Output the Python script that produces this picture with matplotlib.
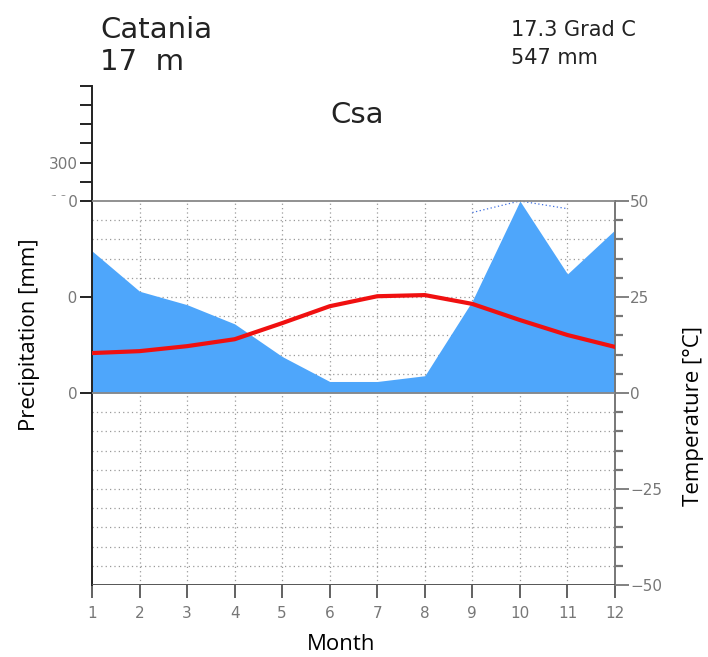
#Walter-Lieth climate diagram for Catania
import numpy as np
import matplotlib
matplotlib.use("Agg")
import matplotlib.pyplot as plt
from matplotlib.patches import Rectangle

months = [1, 2, 3, 4, 5, 6, 7, 8, 9, 10, 11, 12]
# monthly mean temperature (deg C)
temp = [10.4, 10.9, 12.2, 14.0, 18.2, 22.6, 25.2, 25.5, 23.2, 19.0, 15.1, 12.0]
# monthly precipitation (mm)
precip = [74, 53, 46, 36, 19, 6, 6, 9, 48, 100, 62, 85]
# dotted line near the top (temperature units), months 9-11
dot_months = [9, 10, 11]
dot_vals = [47, 50, 48]

station = "Catania"
height = "17 m"
mean_temp = "17.3 Grad C"
total_precip = "547 mm"
koeppen = "Csa"

# precipitation axis: 2 mm = 1 deg up to 100 mm, above that 20 mm = 1 deg
precip_ticks = [0, 50, 100, 200, 300, 400, 500, 600, 700]
precip_labels = ["0", "50", "100", "", "300", "", "", "", ""]
temp_ticks = list(range(-50, 51, 5))

def precip_to_temp(p):
	p = np.asarray(p, dtype=float)
	return np.where(p <= 100, p / 2.0, 50 + (p - 100) / 20.0)

grey = "#777777"
fig = plt.figure(figsize=(7.08, 6.57), dpi=100)
ax = fig.add_axes([92/708, 1-585/657, (615-92)/708, (585-85.8)/657])
ax.set_xlim(1, 12)
ax.set_ylim(-50, 80)

# grid
ax.vlines(months[1:-1], -50, 50, colors="#9a9a9a", linestyles=(0, (1, 2.5)), lw=0.9, zorder=1)
ax.hlines([t for t in temp_ticks if -50 < t < 50 and t != 0], 1, 12, colors="#9a9a9a", linestyles=(0, (1, 2.5)), lw=0.9, zorder=1)

# precipitation area
ax.fill_between(months, 0, np.minimum(precip_to_temp(precip), 50), color="#4ea6fb", lw=0, zorder=2)
ax.plot(dot_months, dot_vals, color="#3f6fe0", lw=0.9, ls=(0, (1, 2)), zorder=3)

# frame lines
ax.hlines([50, 0], 1, 12, colors="#888888", lw=1.3, zorder=3)
ax.hlines(-50, 1, 12, colors="#555555", lw=1.4, zorder=3)

# temperature
ax.plot(months, temp, color="#f01010", lw=3, zorder=4, solid_capstyle="round")

for s in ["top", "bottom"]:
	ax.spines[s].set_visible(False)
ax.spines["left"].set_bounds(-50, 80)
ax.spines["left"].set_color("#222222")
ax.spines["left"].set_linewidth(1.4)
ax.spines["right"].set_bounds(-50, 50)
ax.spines["right"].set_color("#777777")
ax.spines["right"].set_linewidth(1.4)

ax.set_yticks(precip_to_temp(precip_ticks))
ax.set_yticklabels(precip_labels)
ax.tick_params(axis="y", direction="out", length=9, width=1.4, color="#222222", labelcolor=grey, labelsize=11, pad=1)
ax.set_xticks(months)
ax.set_xticklabels([str(m) for m in months])
ax.tick_params(axis="x", direction="out", length=9, width=1.3, color="#555555", labelcolor=grey, labelsize=11, pad=6)

ax2 = ax.twinx()
ax2.set_ylim(-50, 80)
for s in ["top", "bottom", "left", "right"]:
	ax2.spines[s].set_visible(False)
ax2.set_yticks([-50, -25, 0, 25, 50])
ax2.set_yticklabels(["\u221250", "\u221225", "0", "25", "50"])
ax2.set_yticks([t for t in temp_ticks if t % 25 != 0], minor=True)
ax2.tick_params(axis="y", which="major", direction="out", length=10, width=1.3, color="#777777", labelcolor=grey, labelsize=11, pad=1)
ax2.tick_params(axis="y", which="minor", direction="out", length=6, width=1.6, color="#777777")

# header texts
fig.text(100/708, 1-38/657, station, fontsize=21, color="#222222", va="baseline")
fig.text(100/708, 1-70/657, height.replace(" ", "  "), fontsize=21, color="#222222", va="baseline")
fig.text(511/708, 1-36/657, mean_temp, fontsize=15, color="#222222", va="baseline")
fig.text(511/708, 1-64/657, total_precip, fontsize=15, color="#222222", va="baseline")
fig.text(357/708, 1-115/657, koeppen, fontsize=21, color="#222222", ha="center", va="center")

# white strip covering the left labels, as in the pasted original
fig.patches.append(Rectangle((0, 0), 67/708, 1-196/657, transform=fig.transFigure, color="white", zorder=5))

fig.text(30/708, 1-335/657, "Precipitation [mm]", fontsize=16, family="Open Sans", rotation=90, ha="center", va="center", zorder=6)
fig.text(694/708, 1-416/657, "Temperature [\u00b0C]", fontsize=16, family="Open Sans", rotation=90, ha="center", va="center")
fig.text(341/708, 1-645/657, "Month", fontsize=16, family="Open Sans", ha="center", va="center")

plt.savefig("out.png", dpi=100)
